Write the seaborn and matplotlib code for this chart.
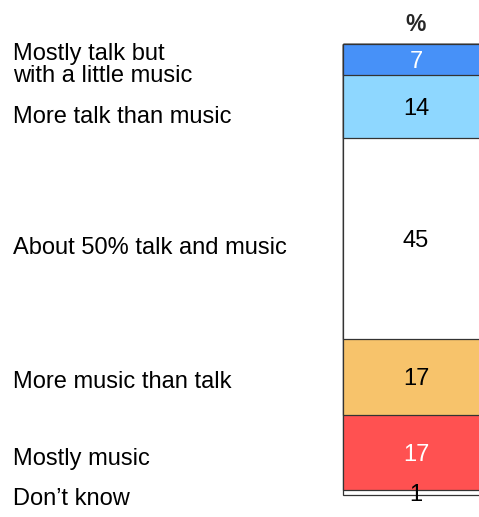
import matplotlib
matplotlib.use("Agg")
import matplotlib.pyplot as plt
import seaborn as sns
import numpy as np

# ==========================================
# data (top segment first)
# ==========================================
categories = ["Mostly talk but\nwith a little music",
              "More talk than music",
              "About 50% talk and music",
              "More music than talk",
              "Mostly music",
              "Don\u2019t know"]
values = [7, 14, 45, 17, 17, 1]
seg_colors = ["#4791F8", "#8ED7FF", "#FFFFFF", "#F7C36B", "#FF5151", "#FFFFFF"]
num_colors = ["white", "black", "black", "black", "white", "black"]

# label baselines (last line) in pixels from the top (layout only)
label_baseline_px = [81.5, 123.0, 254.0, 388.0, 464.5, 505.0]

sns.set_style("white")
plt.rcParams['font.family'] = ['Liberation Sans', 'DejaVu Sans']

W, H = 479, 517
fig = plt.figure(figsize=(W / 100, H / 100), dpi=100)
ax = fig.add_axes([0, 0, 1, 1])

# pixel geometry of the bar
bar_left_px, bar_w_px = 343.3, 145.4
bar_top_px, px_per_unit = 44.0, 4.465

cum_end = np.cumsum(values)
cum_start = cum_end - np.array(values)
centers = (cum_start + cum_end) / 2

# stacked bar: draw cumulative bars from longest to shortest
for i in np.argsort(-cum_end):
    sns.barplot(x=[0], y=[cum_end[i]], color=seg_colors[i], saturation=1,
                width=1, edgecolor="#333333", linewidth=0.9, ax=ax)

for v, c, col in zip(values, centers, num_colors):
    ax.text(0, c, str(v), ha="center", va="center_baseline", fontsize=17, color=col)

ax.annotate("%", xy=(0, 0), xytext=(0, 9.0), textcoords="offset points",
            ha="center", va="baseline", fontsize=16.5, fontweight="bold")

# map the axes to the full figure so the bar sits where it should
ax.set_xlim(-0.5 - bar_left_px / bar_w_px, -0.5 + (W - bar_left_px) / bar_w_px)
ax.set_ylim((H - bar_top_px) / px_per_unit, -bar_top_px / px_per_unit)
ax.axis("off")

for lab, yb in zip(categories, label_baseline_px):
    fig.text(12.7 / W, 1 - yb / H, lab, ha="left", va="baseline",
             fontsize=17, linespacing=0.98, color="black")

fig.savefig("out.png", dpi=100)
